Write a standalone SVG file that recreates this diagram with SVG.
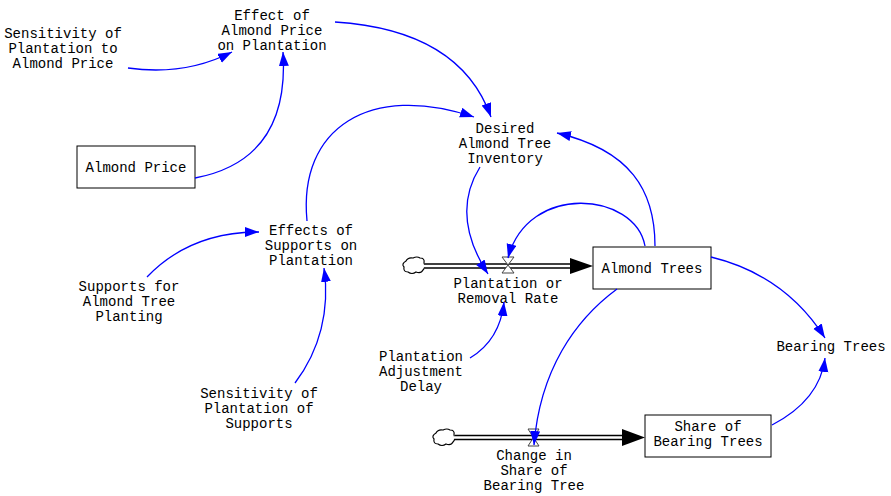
<svg xmlns="http://www.w3.org/2000/svg" width="891" height="496" viewBox="0 0 891 496">
<style>
text{font-family:"Liberation Mono","Courier New",monospace;font-size:14px;fill:#000;text-anchor:middle}
.box{fill:#fff;stroke:#000;stroke-width:1}
.link{fill:none;stroke:#0000ff;stroke-width:1.3;marker-end:url(#ah)}
.pipeo{fill:none;stroke:#000;stroke-width:5.5}
.pipei{fill:none;stroke:#fff;stroke-width:2.5}
.cloud{fill:#fff;stroke:#000;stroke-width:1.2}
.valve{fill:#fff;stroke:#444;stroke-width:1}
</style>
<defs>
<marker id="ah" markerUnits="userSpaceOnUse" markerWidth="16" markerHeight="11" refX="14" refY="5" orient="auto">
<path d="M0,0 L14,5 L0,10 z" fill="#0000ff"/>
</marker>
</defs>
<rect width="891" height="496" fill="#fff"/>

<g id="flows">
<g id="flow-plantation">
<path class="cloud" d="M406,261 q2,-4 7,-3 q4,-2 7,0 q5,0 4,5 q2,4 -1,7 q-2,4 -7,2 q-4,3 -8,0 q-5,0 -4,-5 q-3,-3 2,-6 z"/>
<path class="pipeo" d="M425,266 H571"/>
<path class="pipei" d="M424,266 H572"/>
<polygon points="570,258 593,266 570,274" fill="#000"/>
<path class="valve" d="M502,257 L514,257 L502,273 L514,273 Z"/>
</g>
<g id="flow-share">
<path class="cloud" d="M436,433 q2,-4 7,-3 q4,-2 7,0 q5,0 4,5 q2,4 -1,7 q-2,4 -7,2 q-4,3 -8,0 q-5,0 -4,-5 q-3,-3 2,-6 z"/>
<path class="pipeo" d="M455,437.5 H623"/>
<path class="pipei" d="M454,437.5 H624"/>
<polygon points="622,429 645,437.5 622,446" fill="#000"/>
<path class="valve" d="M528,429 L539,429 L528,446 L539,446 Z"/>
</g>
</g>

<g id="almond-price"><rect class="box" x="77" y="146" width="118" height="42"/><text x="136" y="172">Almond Price</text></g>
<g id="almond-trees"><rect class="box" x="593" y="247" width="118" height="42"/><text x="652" y="273">Almond Trees</text></g>
<g id="share-bearing"><rect class="box" x="645" y="415" width="126" height="42"/><text x="708" y="431">Share of</text><text x="708" y="446">Bearing Trees</text></g>

<g id="sens-price"><text x="63" y="38">Sensitivity of</text><text x="63" y="53">Plantation to</text><text x="63" y="68">Almond Price</text></g>
<g id="effect-price"><text x="272" y="20">Effect of</text><text x="272" y="35">Almond Price</text><text x="272" y="50">on Plantation</text></g>
<g id="desired"><text x="505" y="133">Desired</text><text x="505" y="148">Almond Tree</text><text x="505" y="163">Inventory</text></g>
<g id="effects-supports"><text x="311" y="235">Effects of</text><text x="311" y="250">Supports on</text><text x="311" y="265">Plantation</text></g>
<g id="supports"><text x="129" y="291">Supports for</text><text x="129" y="306">Almond Tree</text><text x="129" y="321">Planting</text></g>
<g id="sens-supports"><text x="259" y="398">Sensitivity of</text><text x="259" y="413">Plantation of</text><text x="259" y="428">Supports</text></g>
<g id="adj-delay"><text x="421" y="361">Plantation</text><text x="421" y="376">Adjustment</text><text x="421" y="391">Delay</text></g>
<g id="plantation-rate"><text x="508" y="288">Plantation or</text><text x="508" y="303">Removal Rate</text></g>
<g id="change-share"><text x="534" y="460">Change in</text><text x="534" y="475">Share of</text><text x="534" y="490">Bearing Tree</text></g>
<g id="bearing-trees"><text x="831" y="351">Bearing Trees</text></g>

<g id="connectors">
<path class="link" d="M128,68 Q185,76 232,52"/>
<path class="link" d="M195,178 Q290,160 283,52"/>
<path class="link" d="M335,22 Q460,30 491,117"/>
<path class="link" d="M307,221 C298,128 370,82 474,117"/>
<path class="link" d="M147,277 Q190,232 259,232"/>
<path class="link" d="M295,383 C320,350 330,310 324,268"/>
<path class="link" d="M480,167 Q450,215 488,274"/>
<path class="link" d="M645,246 C635,192 528,182 508,258"/>
<path class="link" d="M655,246 C655,190 630,150 557,133"/>
<path class="link" d="M470,358 Q500,340 504,302"/>
<path class="link" d="M711,257 Q785,275 825,338"/>
<path class="link" d="M617,289 C575,320 540,370 534,445"/>
<path class="link" d="M772,425 Q820,400 825,358"/>
</g>
</svg>
